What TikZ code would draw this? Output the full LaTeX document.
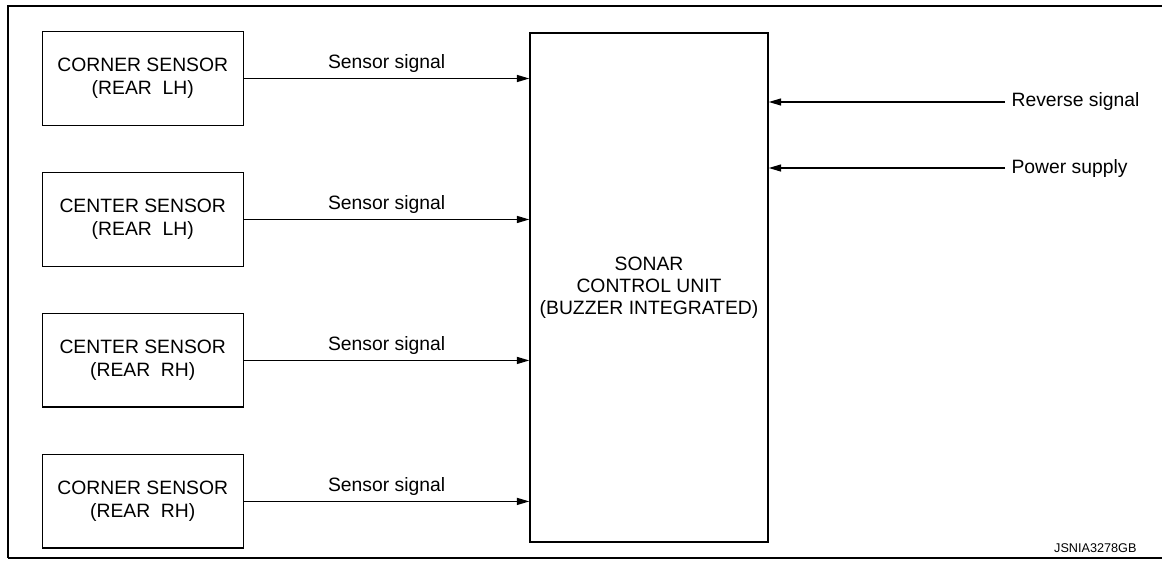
\documentclass[tikz,border=0pt]{standalone}
\usepackage{fontspec}
\setmainfont{Liberation Sans}
\usetikzlibrary{arrows.meta}

\begin{document}
\begin{tikzpicture}[x=0.02cm, y=-0.02cm, node distance=2.82cm, line width=0.8pt,
                    sensor node/.style={rectangle,draw,minimum width=4.02cm,minimum height=1.87cm,
                                        align=center,font=\fontsize{11}{13.3}\selectfont},
                    unit node/.style={rectangle,draw,minimum width=4.76cm,minimum height=10.18cm,
                                      align=center,font=\fontsize{11}{12.4}\selectfont},
                    signal/.style={-{Triangle[length=0.25cm,width=0.14cm]}}]

  \useasboundingbox (0,0) rectangle (1162,561);

  % frame
  \draw[line width=1.7pt] (8,558) -- (8,6) -- (1162,6);
  \draw[line width=0.9pt] (8,558) -- (1162,558);

  \node[sensor node] (1) at (142.75,78.5) {CORNER SENSOR\\(REAR~~LH)};
  \node[sensor node] (2) [below of=1] {CENTER SENSOR\\(REAR~~LH)};
  \node[sensor node] (3) [below of=2] {CENTER SENSOR\\(REAR~~RH)};
  \node[sensor node] (4) [below of=3] {CORNER SENSOR\\(REAR~~RH)};

  \node[unit node] (unit) at (649,287.5) {SONAR\\CONTROL UNIT\\(BUZZER INTEGRATED)};

  \node[anchor=west, font=\fontsize{11}{13}\selectfont] (rev) at (1005,102) {Reverse signal};
  \node[anchor=west, font=\fontsize{11}{13}\selectfont] (pwr) at (1005,168) {Power supply};

  \path[signal, every node/.style={font=\fontsize{11}{13}\selectfont, inner sep=2.8pt}]
    (1) edge node[above] {Sensor signal} (unit.west |- 1)
    (2) edge node[above] {Sensor signal} (unit.west |- 2)
    (3) edge node[above] {Sensor signal} (unit.west |- 3)
    (4) edge node[above] {Sensor signal} (unit.west |- 4)
    (rev.west) edge (unit.east |- rev.west)
    (pwr.west) edge (unit.east |- pwr.west);

  \node[anchor=east, font=\fontsize{7.2}{8}\selectfont] (code) at (1143,548) {JSNIA3278GB};

\end{tikzpicture}
\end{document}
